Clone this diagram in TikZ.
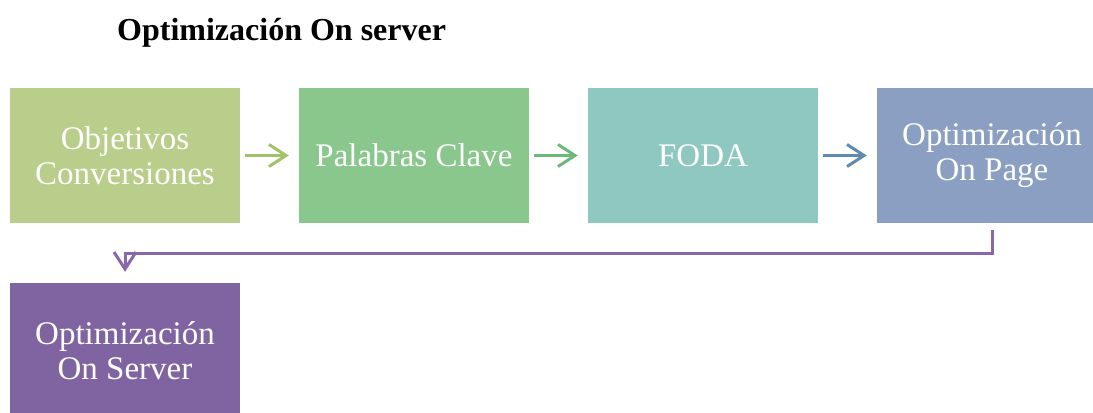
\documentclass[tikz,border=0pt]{standalone}
\usepackage{fontspec}
\setmainfont{Liberation Serif}
\usetikzlibrary{arrows.meta}
\definecolor{boxA}{HTML}{B9CE8A}
\definecolor{boxB}{HTML}{89C78C}
\definecolor{boxC}{HTML}{8FC7C1}
\definecolor{boxD}{HTML}{8A9FC1}
\definecolor{boxE}{HTML}{8064A2}
\definecolor{arrA}{HTML}{A2C267}
\definecolor{arrB}{HTML}{6DB97A}
\definecolor{arrC}{HTML}{5E8CB0}
\definecolor{arrD}{HTML}{8868AA}
\tikzset{
  stepbox/.style={rectangle, minimum width=230bp, minimum height=135bp,
    inner sep=0pt, text=white, align=center,
    font=\fontsize{33bp}{35bp}\selectfont},
  flowarrow/.style={line width=3bp,
    -{Straight Barb[length=17bp,width=22bp,line width=3bp]}},
}
\begin{document}
\begin{tikzpicture}[x=1bp,y=-1bp]
\clip (0,0) rectangle (1093,412);
\fill[white] (0,0) rectangle (1093,412);

\node[anchor=base west, inner sep=0pt,
      font=\fontsize{32bp}{36bp}\selectfont\bfseries] (title) at (117,40)
  {Optimización On server};

\node[stepbox, fill=boxA] (b1) at (125,155.5) {Objetivos\\Conversiones};
\node[stepbox, fill=boxB] (b2) at (414,155.5) {Palabras Clave};
\node[stepbox, fill=boxC] (b3) at (703,155.5) {FODA};
\node[stepbox, fill=boxD] (b4) at (992,155.5) {Optimización\\On Page};
\node[stepbox, fill=boxE] (b5) at (125,350.5) {Optimización\\On Server};

\draw[flowarrow, arrA] ([xshift=5bp]b1.east) -- ([xshift=-10bp]b2.west);
\draw[flowarrow, arrB] ([xshift=5bp]b2.east) -- ([xshift=-10bp]b3.west);
\draw[flowarrow, arrC] ([xshift=5bp]b3.east) -- ([xshift=-10bp]b4.west);

\coordinate (bend) at (992,253);
\draw[flowarrow, arrD] ([yshift=-7bp]b4.south) -- (bend)
  -| ([yshift=11bp]b5.north);
\end{tikzpicture}
\end{document}
